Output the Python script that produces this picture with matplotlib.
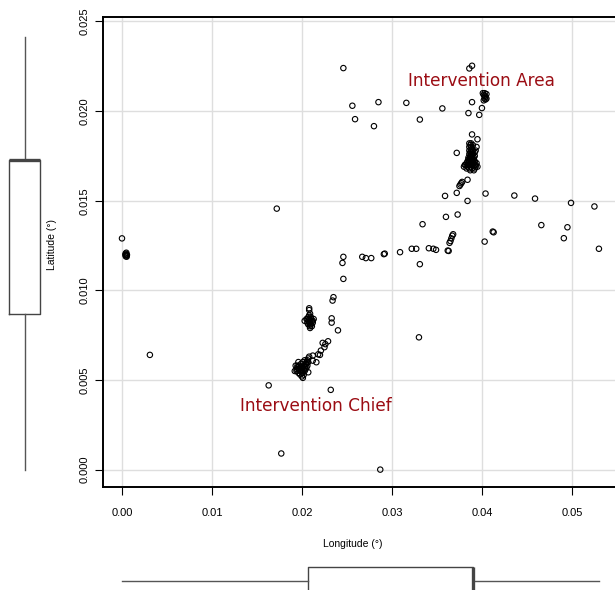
import numpy as np
import matplotlib
matplotlib.use('Agg')
import matplotlib.pyplot as plt

# scattered single readings (longitude, latitude in degrees)
lon_single = [0.0000, 0.0031, 0.0172, 0.0163, 0.0177, 0.0287, 0.0246, 0.0256, 0.0259, 0.0285,
              0.0280, 0.0316, 0.0331, 0.0334, 0.0386, 0.0389, 0.0356, 0.0389, 0.0385, 0.0400,
              0.0397, 0.0389, 0.0395, 0.0372, 0.0384, 0.0377, 0.0376, 0.0378, 0.0375, 0.0359,
              0.0372, 0.0384, 0.0404, 0.0436, 0.0459, 0.0499, 0.0525, 0.0360, 0.0373, 0.0466,
              0.0495, 0.0491, 0.0413, 0.0412, 0.0403, 0.0368, 0.0367, 0.0366, 0.0365, 0.0364,
              0.0363, 0.0362, 0.0530, 0.0322, 0.0327, 0.0341, 0.0346, 0.0349, 0.0309, 0.0246,
              0.0245, 0.0246, 0.0267, 0.0271, 0.0277, 0.0291, 0.0292, 0.0331, 0.0235, 0.0234,
              0.0233, 0.0233, 0.0240, 0.0330, 0.0232, 0.0229, 0.0226, 0.0223, 0.0225, 0.0221,
              0.0218, 0.0220, 0.0212, 0.0216, 0.0212, 0.0207, 0.0201]
lat_single = [0.01290, 0.00640, 0.01456, 0.00470, 0.00090, 0.00000, 0.02240, 0.02030, 0.01955, 0.02050,
              0.01916, 0.02046, 0.01953, 0.01369, 0.02238, 0.02253, 0.02015, 0.02050, 0.01989, 0.02017,
              0.01979, 0.01870, 0.01843, 0.01767, 0.01617, 0.01598, 0.01590, 0.01605, 0.01582, 0.01527,
              0.01544, 0.01499, 0.01540, 0.01529, 0.01512, 0.01488, 0.01468, 0.01410, 0.01423, 0.01364,
              0.01352, 0.01291, 0.01324, 0.01328, 0.01272, 0.01313, 0.01305, 0.01290, 0.01275, 0.01265,
              0.01220, 0.01222, 0.01232, 0.01232, 0.01232, 0.01235, 0.01232, 0.01226, 0.01213, 0.01187,
              0.01153, 0.01064, 0.01187, 0.01180, 0.01180, 0.01202, 0.01205, 0.01146, 0.00962, 0.00943,
              0.00844, 0.00820, 0.00777, 0.00738, 0.00445, 0.00716, 0.00700, 0.00707, 0.00683, 0.00664,
              0.00643, 0.00640, 0.00636, 0.00599, 0.00608, 0.00543, 0.00512]

# dense group near the origin
lon_west = [0.00040, 0.00045, 0.00050, 0.00042, 0.00048, 0.00055, 0.00038, 0.00052]
lat_west = [0.01205, 0.01200, 0.01195, 0.01190, 0.01210, 0.01198, 0.01198, 0.01188]

# dense group at the top
lon_top = [0.0401, 0.0403, 0.0405, 0.0402, 0.0404, 0.0403, 0.0405, 0.0402, 0.0404, 0.0403]
lat_top = [0.02100, 0.02100, 0.02095, 0.02090, 0.02080, 0.02070, 0.02070, 0.02060, 0.02065, 0.02085]

# intervention area main group
lon_area = [0.0386, 0.0388, 0.0386, 0.0388, 0.0390, 0.0386, 0.0388, 0.0390, 0.0386, 0.0388,
            0.0390, 0.0392, 0.0385, 0.0387, 0.0389, 0.0391, 0.0384, 0.0386, 0.0388, 0.0390,
            0.0392, 0.0382, 0.0384, 0.0386, 0.0388, 0.0390, 0.0392, 0.0394, 0.0380, 0.0383,
            0.0386, 0.0389, 0.0392, 0.0395, 0.0387, 0.0391, 0.0393, 0.0392, 0.0394,
            0.0387, 0.0389, 0.0387, 0.0389, 0.0387, 0.0389, 0.0385, 0.0387, 0.0389, 0.0391,
            0.0383, 0.0385, 0.0387, 0.0389, 0.0391, 0.0393, 0.0381, 0.0384, 0.0388, 0.0393]
lat_area = [0.0182, 0.0182, 0.0180, 0.0180, 0.0181, 0.0178, 0.0178, 0.0178, 0.0176, 0.0176,
            0.0176, 0.0177, 0.0174, 0.0174, 0.0174, 0.0174, 0.0172, 0.0172, 0.0172, 0.0172,
            0.0172, 0.0170, 0.0170, 0.0170, 0.0170, 0.0170, 0.0170, 0.0171, 0.0169, 0.0168,
            0.0168, 0.0168, 0.0168, 0.0169, 0.0167, 0.0167, 0.0178, 0.0175, 0.0180,
            0.0181, 0.0179, 0.0177, 0.0177, 0.0175, 0.0175, 0.0173, 0.0173, 0.0173, 0.0173,
            0.0171, 0.0171, 0.0171, 0.0171, 0.0171, 0.0169, 0.0170, 0.0169, 0.0169, 0.0170]

# intervention chief groups
lon_chief = [0.0193, 0.0195, 0.0197, 0.0199, 0.0201, 0.0203, 0.0196, 0.0198, 0.0200, 0.0202,
             0.0194, 0.0192, 0.0197, 0.0200, 0.0202, 0.0204, 0.0205, 0.0206, 0.0207, 0.0208,
             0.0206, 0.0204, 0.0199, 0.0196, 0.0201, 0.0203, 0.0205, 0.0200,
             0.0194, 0.0196, 0.0198, 0.0200, 0.0202, 0.0198, 0.0195, 0.0203, 0.0205, 0.0207]
lat_chief = [0.0058, 0.0057, 0.0056, 0.0055, 0.0054, 0.0055, 0.0054, 0.0053, 0.0052, 0.0053,
             0.0056, 0.0055, 0.0058, 0.0057, 0.0058, 0.0059, 0.0060, 0.0061, 0.0062, 0.0063,
             0.0058, 0.0056, 0.0059, 0.0060, 0.0060, 0.0061, 0.0057, 0.0055,
             0.0055, 0.0056, 0.0055, 0.0054, 0.0056, 0.0057, 0.0058, 0.0057, 0.0059, 0.0060]
lon_chief2 = [0.0208, 0.0208, 0.0209, 0.0208, 0.0210, 0.0207, 0.0203, 0.0205, 0.0207, 0.0209,
              0.0211, 0.0213, 0.0212, 0.0210, 0.0208, 0.0206, 0.0209, 0.0209, 0.0211,
              0.0206, 0.0208, 0.0210, 0.0212, 0.0207, 0.0209]
lat_chief2 = [0.0090, 0.0089, 0.0087, 0.0086, 0.0085, 0.0085, 0.0083, 0.0084, 0.0083, 0.0083,
              0.0083, 0.0084, 0.0082, 0.0081, 0.0082, 0.0082, 0.0080, 0.0079, 0.0080,
              0.0084, 0.0084, 0.0084, 0.0083, 0.0081, 0.0081]

# marginal box plot statistics
lat_box = dict(whislo=0.0, q1=0.00869, med=0.01728, q3=0.01725, whishi=0.02416)
lon_box = dict(whislo=0.0, q1=0.0207, med=0.0390, q3=0.0390, whishi=0.0530)

lon = np.concatenate([lon_single, lon_west, lon_top, lon_area, lon_chief, lon_chief2])
lat = np.concatenate([lat_single, lat_west, lat_top, lat_area, lat_chief, lat_chief2])

plt.rcParams['font.family'] = ['Liberation Sans', 'DejaVu Sans']

W, H = 615, 590
fig = plt.figure(figsize=(W / 100, H / 100), dpi=100)

def px_axes(x0, y0, x1, y1):
    # pixel box (top-left origin) -> figure axes
    return fig.add_axes([x0 / W, (H - y1) / H, (x1 - x0) / W, (y1 - y0) / H])

ax = px_axes(103, 17, 618, 487)
ax.set_xlim(-0.00211, 0.05512)
ax.set_ylim(-0.00097, 0.02525)
ax.grid(True, color='#dedede', lw=1.0)
ax.set_axisbelow(True)
ax.scatter(lon, lat, s=15, facecolors='none', edgecolors='black', linewidths=0.8, zorder=3)

ax.set_xticks(np.arange(0, 0.051, 0.01))
ax.set_xticklabels(['0.00', '0.01', '0.02', '0.03', '0.04', '0.05'])
ax.set_yticks(np.arange(0, 0.0251, 0.005))
ax.set_yticklabels(['0.000', '0.005', '0.010', '0.015', '0.020', '0.025'], rotation=90, va='center')
ax.tick_params(axis='x', direction='out', length=6, width=0.8, pad=9, labelsize=8)
ax.tick_params(axis='y', direction='out', length=6, width=0.8, pad=3.5, labelsize=8)
ax.spines['right'].set_visible(False)
for s in ['left', 'bottom', 'top']:
    ax.spines[s].set_linewidth(1.4)

ax.text(0.0399, 0.02166, 'Intervention Area', color='#9b0d14', fontsize=12.2,
        family='DejaVu Sans', ha='center', va='center')
ax.text(0.02156, 0.00356, 'Intervention Chief', color='#9b0d14', fontsize=12.2,
        family='DejaVu Sans', ha='center', va='center')

fig.text(353 / W, 1 - 544 / H, 'Longitude (°)', fontsize=7.5, ha='center', va='center')
fig.text(52 / W, 1 - 245 / H, 'Latitude (°)', fontsize=7.5, ha='center', va='center', rotation=90)

box_kw = dict(showfliers=False, showcaps=False,
              boxprops=dict(color='#444444', lw=1.0),
              whiskerprops=dict(color='#555555', lw=1.0),
              medianprops=dict(color='#444444', lw=2.4))

# left marginal box plot
axl = px_axes(0, 17, 50, 487)
axl.set_xlim(0, 50)
axl.set_ylim(ax.get_ylim())
axl.bxp([lat_box], positions=[24.8], widths=31, orientation='vertical', **box_kw)
axl.axis('off')

# bottom marginal box plot
axb = px_axes(103, 555, 618, 605)
axb.set_xlim(ax.get_xlim())
axb.set_ylim(0, 50)
axb.bxp([lon_box], positions=[24], widths=28, orientation='horizontal', **box_kw)
axb.axis('off')

fig.savefig('out.png', dpi=100)
